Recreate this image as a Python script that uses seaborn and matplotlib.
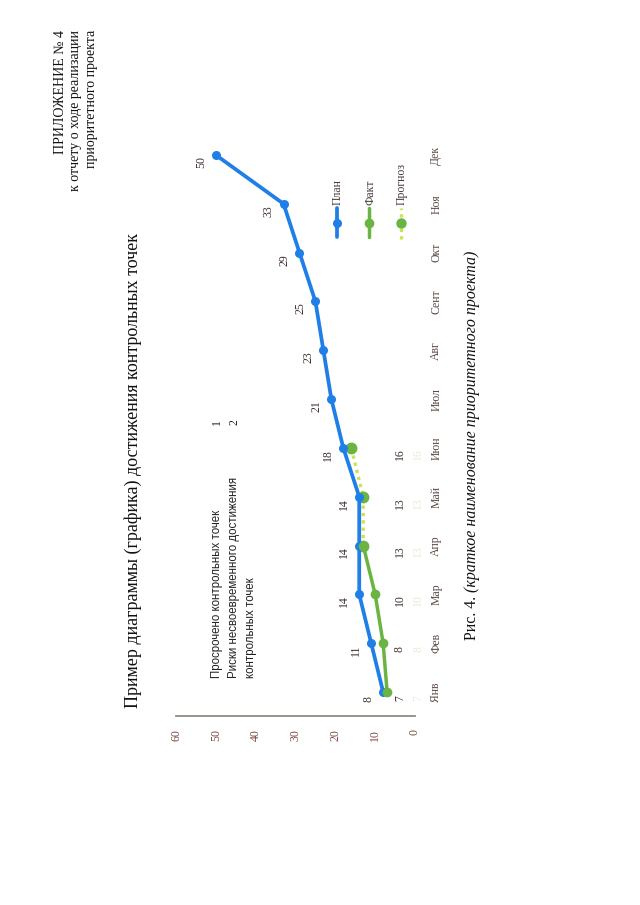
import matplotlib
matplotlib.use('Agg')
import matplotlib.pyplot as plt
import seaborn as sns
import pandas as pd
from matplotlib.lines import Line2D

# ---------------- data ----------------
months = ['Янв', 'Фев', 'Мар', 'Апр', 'Май', 'Июн', 'Июл', 'Авг', 'Сент', 'Окт', 'Ноя', 'Дек']
plan = [8, 11, 14, 14, 14, 18, 21, 23, 25, 29, 33, 50]
fact_months = ['Янв', 'Фев', 'Мар', 'Апр']
fact = [7, 8, 10, 13]
forecast_months = ['Апр', 'Май', 'Июн']
forecast = [13, 13, 16]
base_label_months = ['Янв', 'Фев', 'Мар', 'Апр', 'Май', 'Июн']
base_labels = [7, 8, 10, 13, 13, 16]
value_ticks = [0, 10, 20, 30, 40, 50, 60]
status_texts = ['Просрочено контрольных точек', 'Риски несвоевременного достижения', 'контрольных точек']
status_values = ['1', '2']
legend_names = ['План', 'Факт', 'Прогноз']
header_lines = ['ПРИЛОЖЕНИЕ № 4', 'к отчету о ходе реализации', 'приоритетного проекта']
title = 'Пример диаграммы (графика) достижения контрольных точек'
caption_plain = 'Рис. 4.'
caption_italic = '(краткое наименование приоритетного проекта)'

BLUE = '#1f7fe6'
GREEN = '#69b443'
LIME = '#cde257'
LABEL = '#3e2f2c'

W, H = 640, 905
sns.set_theme(style='white')
plt.rcParams['font.family'] = ['Liberation Serif', 'DejaVu Serif']

fig = plt.figure(figsize=(6.4, 9.05), dpi=100)
fig.patch.set_facecolor('white')


def fx(x):
    return x / W


def fy(y):
    return 1 - y / H


left, right, top, bottom = 176, 415, 130.6, 716.4
ax = fig.add_axes([fx(left), fy(bottom), (right - left) / W, (bottom - top) / H])
ax.set_facecolor('none')

pos = {m: i for i, m in enumerate(months)}
df_plan = pd.DataFrame({'value': plan, 'pos': [pos[m] for m in months]})
df_fact = pd.DataFrame({'value': fact, 'pos': [pos[m] for m in fact_months]})
df_fc = pd.DataFrame({'value': forecast, 'pos': [pos[m] for m in forecast_months]})

sns.lineplot(data=df_fc, x='value', y='pos', sort=False, estimator=None, ax=ax,
             color=LIME, lw=2.4, linestyle=(0, (1, 1.2)), zorder=3)
ax.plot(df_fc['value'], df_fc['pos'], ls='none', marker='o', ms=7.5, color=GREEN, zorder=3.5)
sns.lineplot(data=df_plan, x='value', y='pos', sort=False, estimator=None, ax=ax,
             color=BLUE, lw=2.7, marker='o', markersize=6.5, markeredgewidth=0, zorder=4)
sns.lineplot(data=df_fact, x='value', y='pos', sort=False, estimator=None, ax=ax,
             color=GREEN, lw=2.5, marker='o', markersize=7, markeredgewidth=0, zorder=5)

ax.set_xlim(60, 0)
ax.set_ylim(-0.5, 11.5)
ax.set_xlabel('')
ax.set_ylabel('')
for s in ['top', 'left', 'right']:
    ax.spines[s].set_visible(False)
ax.spines['bottom'].set_color('#8e8c84')
ax.spines['bottom'].set_linewidth(1.3)

ax.set_xticks(value_ticks)
ax.set_xticklabels([str(v) for v in value_ticks], rotation=90, fontsize=8.5, color='#7d4b42')
ax.tick_params(axis='x', length=0, pad=9)
ax.yaxis.tick_right()
ax.set_yticks(range(len(months)))
ax.set_yticklabels(months, rotation=90, fontsize=8.5, color='#5b4a44', va='center')
ax.tick_params(axis='y', length=0, pad=11)

# data labels
for i, v in enumerate(plan):
    ax.annotate(str(v), xy=(v, i), xytext=(-15, -7), textcoords='offset pixels',
                rotation=90, ha='center', va='center', fontsize=8.5, color=LABEL)
ytr = ax.get_yaxis_transform()
for m, v in zip(base_label_months, base_labels):
    ax.annotate(str(v), xy=(0.937, pos[m]), xycoords=ytr, xytext=(0, -6), textcoords='offset pixels',
                rotation=90, ha='center', va='center', fontsize=8.5, color=LABEL)
    ax.annotate(str(v), xy=(1.0, pos[m]), xycoords=ytr, xytext=(3, -6), textcoords='offset pixels',
                rotation=90, ha='center', va='center', fontsize=8.5, color='#f0e8d4')

# legend (drawn manually, rotated)
leg_x = [337, 369, 401]
for k, name in enumerate(legend_names):
    x = leg_x[k]
    if k == 0:
        fig.add_artist(Line2D([fx(x), fx(x)], [fy(237), fy(208)], color=BLUE, lw=2.7))
        fig.add_artist(Line2D([fx(x)], [fy(223)], marker='o', ms=6.5, color=BLUE, mew=0))
    elif k == 1:
        fig.add_artist(Line2D([fx(x), fx(x)], [fy(237), fy(208)], color=GREEN, lw=2.5))
        fig.add_artist(Line2D([fx(x)], [fy(223)], marker='o', ms=7, color=GREEN, mew=0))
    else:
        fig.add_artist(Line2D([fx(x), fx(x)], [fy(239), fy(208)], color=LIME, lw=2.4,
                              linestyle=(0, (1, 1.2))))
        fig.add_artist(Line2D([fx(x)], [fy(223)], marker='o', ms=7.5, color=GREEN, mew=0))
    fig.text(fx(x + 1), fy(205), name, rotation=90, ha='center', va='bottom',
             fontsize=8.5, color='#4a3c38')

# status block
st_x = [217, 234, 251]
for x, t in zip(st_x, status_texts):
    fig.text(fx(x), fy(678), t, rotation=90, ha='center', va='bottom', fontsize=8.3,
             color='#222222', family=['Liberation Sans', 'DejaVu Sans'])
for x, t in zip(st_x[:2], status_values):
    fig.text(fx(x), fy(422), t, rotation=90, ha='center', va='center', fontsize=8.5,
             color='#222222', family=['Liberation Serif', 'DejaVu Serif'])

# title, header, caption
fig.text(fx(133), fy(470), title, rotation=90, ha='center', va='center', fontsize=13, color='#111111')
for x, t in zip([60, 76, 92], header_lines):
    fig.text(fx(x), fy(30), t, rotation=90, ha='center', va='top', fontsize=10, color='#111111')

t1 = fig.text(fx(472), fy(640), caption_plain, rotation=90, ha='center', va='bottom',
              fontsize=11.5, color='#111111')
fig.canvas.draw()
bb = t1.get_window_extent()
fig.text(fx(472), fy(640 - bb.height - 4), caption_italic, rotation=90, ha='center', va='bottom',
         fontsize=11.5, color='#111111', style='italic')

fig.savefig('out.png', dpi=100, facecolor='white')
